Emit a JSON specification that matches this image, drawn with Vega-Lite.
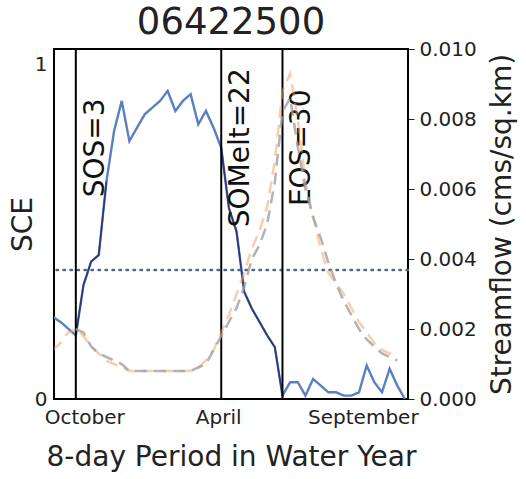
{
  "$schema": "https://vega.github.io/schema/vega-lite/v6.json",
  "width": 354,
  "height": 350,
  "autosize": {"type": "none"},
  "padding": {"left": 54, "top": 49, "right": 118, "bottom": 80},
  "background": "white",
  "config": {
    "font": "DejaVu Sans",
    "view": {"stroke": "black", "strokeWidth": 2},
    "axis": {
      "grid": false,
      "domain": false,
      "labelFont": "DejaVu Sans",
      "titleFont": "DejaVu Sans",
      "labelFontSize": 20,
      "titleFontSize": 28,
      "labelColor": "#222",
      "titleColor": "#222",
      "titleFontWeight": "normal",
      "tickColor": "#222"
    }
  },
  "title": {
    "text": "06422500",
    "fontSize": 37,
    "fontWeight": "normal",
    "font": "DejaVu Sans",
    "baseline": "bottom",
    "offset": -40,
    "frame": "group",
    "color": "#222"
  },
  "datasets": {
    "series": [
      {"p": 0, "sce": 0.245, "q": 0.0014, "qs": null},
      {"p": 1, "sce": 0.23, "q": 0.0016, "qs": null},
      {"p": 2, "sce": 0.21, "q": 0.0019, "qs": null},
      {"p": 3, "sce": 0.19, "q": 0.0020, "qs": 0.0020},
      {"p": 4, "sce": 0.34, "q": 0.0018, "qs": 0.0019},
      {"p": 5, "sce": 0.41, "q": 0.0015, "qs": 0.0015},
      {"p": 6, "sce": 0.43, "q": 0.0013, "qs": 0.0013},
      {"p": 7, "sce": 0.65, "q": 0.0011, "qs": 0.0012},
      {"p": 8, "sce": 0.80, "q": 0.0010, "qs": 0.0011},
      {"p": 9, "sce": 0.89, "q": 0.0009, "qs": 0.0010},
      {"p": 10, "sce": 0.77, "q": 0.0008, "qs": 0.0008},
      {"p": 11, "sce": 0.81, "q": 0.0008, "qs": 0.0008},
      {"p": 12, "sce": 0.85, "q": 0.0008, "qs": 0.0008},
      {"p": 13, "sce": 0.87, "q": 0.0008, "qs": 0.0008},
      {"p": 14, "sce": 0.89, "q": 0.0008, "qs": 0.0008},
      {"p": 15, "sce": 0.92, "q": 0.0008, "qs": 0.0008},
      {"p": 16, "sce": 0.86, "q": 0.0008, "qs": 0.0008},
      {"p": 17, "sce": 0.89, "q": 0.0008, "qs": 0.0008},
      {"p": 18, "sce": 0.91, "q": 0.0008, "qs": 0.0008},
      {"p": 19, "sce": 0.82, "q": 0.0009, "qs": 0.0009},
      {"p": 20, "sce": 0.86, "q": 0.0011, "qs": 0.0010},
      {"p": 21, "sce": 0.81, "q": 0.0014, "qs": 0.0014},
      {"p": 22, "sce": 0.75, "q": 0.0019, "qs": 0.0018},
      {"p": 23, "sce": 0.57, "q": 0.0024, "qs": 0.0022},
      {"p": 24, "sce": 0.50, "q": 0.0030, "qs": 0.0026},
      {"p": 25, "sce": 0.32, "q": 0.0036, "qs": 0.0032},
      {"p": 26, "sce": 0.27, "q": 0.0043, "qs": 0.0040},
      {"p": 27, "sce": 0.23, "q": 0.0048, "qs": 0.0044},
      {"p": 28, "sce": 0.19, "q": 0.0055, "qs": 0.0050},
      {"p": 29, "sce": 0.155, "q": 0.0068, "qs": 0.0062},
      {"p": 30, "sce": 0.01, "q": 0.0088, "qs": 0.0082},
      {"p": 31, "sce": 0.05, "q": 0.0093, "qs": 0.0086},
      {"p": 32, "sce": 0.05, "q": 0.0080, "qs": 0.0072},
      {"p": 33, "sce": 0.01, "q": 0.0062, "qs": 0.0060},
      {"p": 34, "sce": 0.06, "q": 0.0052, "qs": 0.0052},
      {"p": 35, "sce": 0.04, "q": 0.0043, "qs": 0.0046},
      {"p": 36, "sce": 0.02, "q": 0.0036, "qs": 0.0039},
      {"p": 37, "sce": 0.02, "q": 0.0033, "qs": 0.0033},
      {"p": 38, "sce": 0.01, "q": 0.0030, "qs": 0.0028},
      {"p": 39, "sce": 0.01, "q": 0.0026, "qs": 0.0024},
      {"p": 40, "sce": 0.02, "q": 0.0022, "qs": 0.0020},
      {"p": 41, "sce": 0.10, "q": 0.0019, "qs": 0.0017},
      {"p": 42, "sce": 0.05, "q": 0.0016, "qs": 0.0015},
      {"p": 43, "sce": 0.02, "q": 0.0014, "qs": 0.0013},
      {"p": 44, "sce": 0.09, "q": 0.0013, "qs": 0.0012},
      {"p": 45, "sce": 0.04, "q": 0.0012, "qs": 0.0011},
      {"p": 46, "sce": 0.0, "q": null, "qs": null}
    ],
    "events": [
      {"p": 3, "label": "SOS=3"},
      {"p": 22, "label": "SOMelt=22"},
      {"p": 30, "label": "EOS=30"}
    ]
  },
  "layer": [
    {
      "layer": [
        {
          "data": {"name": "series"},
          "mark": {"type": "line", "color": "#5b7fc0", "strokeWidth": 2.4, "clip": true},
          "encoding": {
            "x": {"field": "p", "type": "quantitative", "scale": {"domain": [0.15, 46.4], "nice": false, "zero": false},
                  "axis": {"values": [4.1, 21.6, 40.5], "labelExpr": "datum.value < 10 ? 'October' : datum.value < 30 ? 'April' : 'September'", "title": "8-day Period in Water Year", "ticks": false, "labelPadding": 8, "titlePadding": 16, "labelFlush": false, "labelOverlap": false}},
            "y": {"field": "sce", "type": "quantitative", "scale": {"domain": [0, 1.045], "nice": false},
                  "axis": {"values": [0, 1], "format": "d", "title": "SCE", "ticks": false, "labelPadding": 7, "titlePadding": -3}}
          }
        },
        {
          "data": {"name": "series"},
          "transform": [{"filter": "datum.p >= 3 && datum.p <= 7"}],
          "mark": {"type": "line", "color": "#2e3474", "strokeWidth": 1.6, "clip": true},
          "encoding": {
            "x": {"field": "p", "type": "quantitative", "scale": {"domain": [0.15, 46.4], "nice": false, "zero": false},
                  "axis": {"values": [4.1, 21.6, 40.5], "labelExpr": "datum.value < 10 ? 'October' : datum.value < 30 ? 'April' : 'September'", "title": "8-day Period in Water Year", "ticks": false, "labelPadding": 8, "titlePadding": 16, "labelFlush": false, "labelOverlap": false}},
            "y": {"field": "sce", "type": "quantitative", "scale": {"domain": [0, 1.045], "nice": false},
                  "axis": {"values": [0, 1], "format": "d", "title": "SCE", "ticks": false, "labelPadding": 7, "titlePadding": -3}}
          }
        },
        {
          "data": {"name": "series"},
          "transform": [{"filter": "datum.p >= 22 && datum.p <= 30"}],
          "mark": {"type": "line", "color": "#2e3474", "strokeWidth": 1.6, "clip": true},
          "encoding": {
            "x": {"field": "p", "type": "quantitative", "scale": {"domain": [0.15, 46.4], "nice": false, "zero": false},
                  "axis": {"values": [4.1, 21.6, 40.5], "labelExpr": "datum.value < 10 ? 'October' : datum.value < 30 ? 'April' : 'September'", "title": "8-day Period in Water Year", "ticks": false, "labelPadding": 8, "titlePadding": 16, "labelFlush": false, "labelOverlap": false}},
            "y": {"field": "sce", "type": "quantitative", "scale": {"domain": [0, 1.045], "nice": false},
                  "axis": {"values": [0, 1], "format": "d", "title": "SCE", "ticks": false, "labelPadding": 7, "titlePadding": -3}}
          }
        },
        {
          "data": {"values": [{"level": 0.385}]},
          "mark": {"type": "rule", "color": "#55658a", "strokeWidth": 2.5, "strokeDash": [1.5, 5.5], "strokeCap": "round"},
          "encoding": {
            "y": {"field": "level", "type": "quantitative", "scale": {"domain": [0, 1.045], "nice": false},
                  "axis": {"values": [0, 1], "format": "d", "title": "SCE", "ticks": false, "labelPadding": 7, "titlePadding": -3}}
          }
        },
        {
          "data": {"name": "events"},
          "mark": {"type": "rule", "color": "black", "strokeWidth": 2},
          "encoding": {
            "x": {"field": "p", "type": "quantitative", "scale": {"domain": [0.15, 46.4], "nice": false, "zero": false},
                  "axis": {"values": [4.1, 21.6, 40.5], "labelExpr": "datum.value < 10 ? 'October' : datum.value < 30 ? 'April' : 'September'", "title": "8-day Period in Water Year", "ticks": false, "labelPadding": 8, "titlePadding": 16, "labelFlush": false, "labelOverlap": false}}
          }
        },
        {
          "data": {"name": "events"},
          "mark": {"type": "text", "angle": 270, "align": "center", "baseline": "middle", "dy": 20, "fontSize": 28, "font": "DejaVu Sans", "color": "#111"},
          "encoding": {
            "x": {"field": "p", "type": "quantitative", "scale": {"domain": [0.15, 46.4], "nice": false, "zero": false},
                  "axis": {"values": [4.1, 21.6, 40.5], "labelExpr": "datum.value < 10 ? 'October' : datum.value < 30 ? 'April' : 'September'", "title": "8-day Period in Water Year", "ticks": false, "labelPadding": 8, "titlePadding": 16, "labelFlush": false, "labelOverlap": false}},
            "y": {"datum": 0.75, "type": "quantitative", "scale": {"domain": [0, 1.045], "nice": false},
                  "axis": {"values": [0, 1], "format": "d", "title": "SCE", "ticks": false, "labelPadding": 7, "titlePadding": -3}},
            "text": {"field": "label", "type": "nominal"}
          }
        }
      ]
    },
    {
      "layer": [
        {
          "data": {"name": "series"},
          "mark": {"type": "line", "color": "#f0a060", "opacity": 0.5, "strokeWidth": 2.5, "strokeDash": [12, 7], "clip": true},
          "encoding": {
            "x": {"field": "p", "type": "quantitative", "scale": {"domain": [0.15, 46.4], "nice": false, "zero": false},
                  "axis": {"values": [4.1, 21.6, 40.5], "labelExpr": "datum.value < 10 ? 'October' : datum.value < 30 ? 'April' : 'September'", "title": "8-day Period in Water Year", "ticks": false, "labelPadding": 8, "titlePadding": 16, "labelFlush": false, "labelOverlap": false}},
            "y": {"field": "q", "type": "quantitative", "scale": {"domain": [0, 0.01], "nice": false},
                  "axis": {"orient": "right", "values": [0, 0.002, 0.004, 0.006, 0.008, 0.01], "format": ".3f", "title": "Streamflow (cms/sq.km)", "titleAngle": 270, "titleBaseline": "top", "tickSize": 6, "labelPadding": 5, "titlePadding": 12}}
          }
        },
        {
          "data": {"name": "series"},
          "mark": {"type": "line", "color": "#a0a0a0", "opacity": 0.8, "strokeWidth": 2.5, "strokeDash": [12, 7], "clip": true},
          "encoding": {
            "x": {"field": "p", "type": "quantitative", "scale": {"domain": [0.15, 46.4], "nice": false, "zero": false},
                  "axis": {"values": [4.1, 21.6, 40.5], "labelExpr": "datum.value < 10 ? 'October' : datum.value < 30 ? 'April' : 'September'", "title": "8-day Period in Water Year", "ticks": false, "labelPadding": 8, "titlePadding": 16, "labelFlush": false, "labelOverlap": false}},
            "y": {"field": "qs", "type": "quantitative", "scale": {"domain": [0, 0.01], "nice": false},
                  "axis": {"orient": "right", "values": [0, 0.002, 0.004, 0.006, 0.008, 0.01], "format": ".3f", "title": "Streamflow (cms/sq.km)", "titleAngle": 270, "titleBaseline": "top", "tickSize": 6, "labelPadding": 5, "titlePadding": 12}}
          }
        }
      ]
    }
  ],
  "resolve": {"scale": {"y": "independent"}}
}
